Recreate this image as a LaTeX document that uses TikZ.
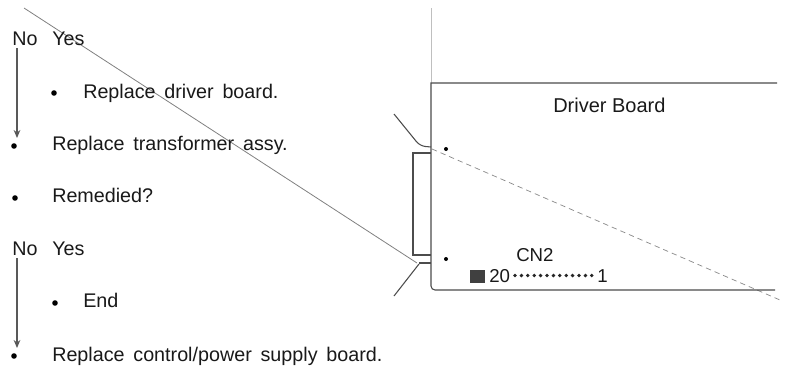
\documentclass[tikz,border=0pt]{standalone}
\usepackage{fontspec}
\setmainfont[WordSpace=1.6]{Liberation Sans}
\newfontfamily\plainsans{Liberation Sans}
\usetikzlibrary{arrows.meta}
\tikzset{
 x=0.75pt,y=-0.75pt,
 lab/.style={anchor=base west,inner sep=0pt,font=\fontsize{14.8}{17}\selectfont,text=black!90},
 dotm/.style={circle,fill=black,inner sep=0pt,minimum size=4.2pt},
 thin line/.style={draw=black!50,line width=0.6pt},
 board/.style={draw=black!70,line width=0.8pt},
 flow/.style={draw=black!65,line width=0.8pt,-{Stealth[length=6pt,width=5pt]}}
}
\begin{document}
\begin{tikzpicture}
\useasboundingbox (0,0) rectangle (800,369);
\coordinate (diagA) at (24,8);
\coordinate (diagB) at (417,263);
\coordinate (diagC) at (432,149);
\coordinate (diagD) at (780,300);
\draw[thin line] (diagA) -- (diagB);
\draw[draw=black!45,line width=0.55pt,dash pattern=on 4pt off 3pt] (diagC) -- (diagD);
\node[lab] (no1) at (12,45) {No};
\node[lab] (yes1) at (52,45) {Yes};
\node[dotm] (d1) at (54,93) {};
\node[lab] at (83,98) {Replace driver board.};
\node[dotm] (d2) at (14,146) {};
\node[lab] at (52,150) {Replace transformer assy.};
\node[dotm] (d3) at (15,198) {};
\node[lab] at (52,202) {Remedied?};
\node[lab] (no2) at (12,255) {No};
\node[lab] (yes2) at (52,255) {Yes};
\node[dotm] (d4) at (55,303) {};
\node[lab] at (83,307) {End};
\node[dotm] (d5) at (14,356) {};
\node[lab] at (52,361) {Replace control/power supply board.};
\coordinate (f1a) at (17,48);
\coordinate (f1b) at (17,138);
\coordinate (f2a) at (17,258);
\coordinate (f2b) at (17,348);
\draw[flow] (f1a) -- (f1b);
\draw[flow] (f2a) -- (f2b);
\coordinate (vt) at (431,8);
\coordinate (tl) at (431,83);
\coordinate (tr) at (777,83);
\coordinate (bl) at (431,290);
\coordinate (br) at (775,290);
\draw[draw=black!25,line width=0.6pt] (vt) -- (tl);
\draw[board] (tr) -- (tl) [rounded corners=3pt] -- (bl) -- (br);
\draw[board,rounded corners=4pt] (394,114) -- (420,146) -- (431,147);
\draw[board] (431,153) -- (413,153) -- (413,255) -- (431,255);
\draw[board] (419,263) -- (431,263);
\draw[board] (394,296) -- (419,264);
\node[lab,font=\fontsize{15}{17}\plainsans] at (553,112) {Driver Board};
\node[dotm,minimum size=3pt] (p1) at (446,149) {};
\node[dotm,minimum size=3pt] (p2) at (446,259) {};
\node[lab,font=\fontsize{14}{16}\selectfont] at (516,261) {CN2};
\node[fill=black!75,inner sep=0pt,minimum width=11pt,minimum height=10pt] (sq) at (477.5,276.5) {};
\node[lab,font=\fontsize{14}{16}\selectfont] at (489,282) {20};
\foreach \i in {0,...,12}{\fill[black!85] ({515+\i*6.4},275.5) circle (1.9);}
\node[lab,font=\fontsize{14}{16}\selectfont] at (597,282) {1};
\end{tikzpicture}
\end{document}
